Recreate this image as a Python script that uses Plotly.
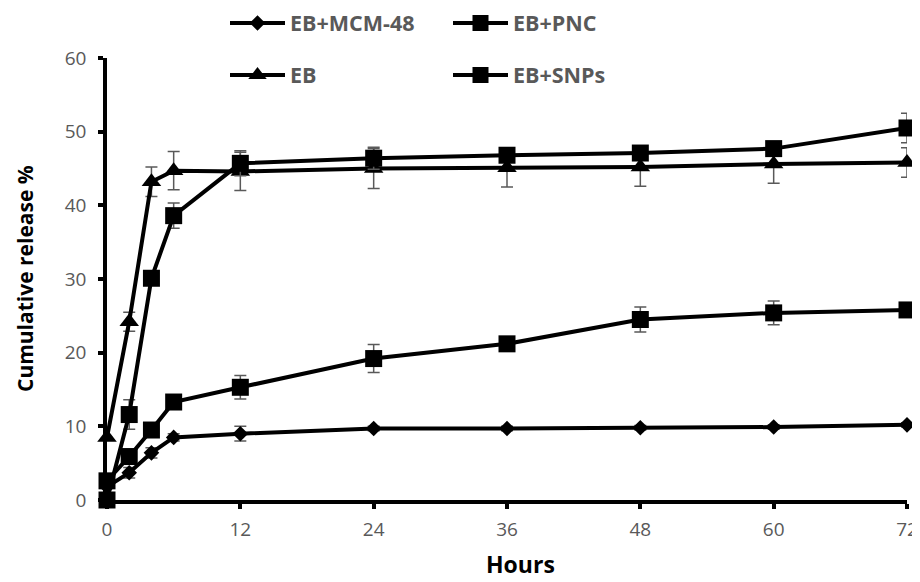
import plotly.graph_objects as go

hours = [0, 2, 4, 6, 12, 24, 36, 48, 60, 72]

mcm48 = [1.8, 3.7, 6.4, 8.5, 9.0, 9.7, 9.7, 9.8, 9.9, 10.2]
mcm48_err = [0.0, 0.7, 0.7, 0.5, 1.0, 0.3, 0.3, 0.3, 0.3, 0.3]

pnc = [2.6, 5.9, 9.5, 13.3, 15.3, 19.2, 21.2, 24.5, 25.4, 25.8]
pnc_err = [0.0, 0.6, 0.6, 0.6, 1.6, 1.9, 0.5, 1.7, 1.6, 0.5]

eb = [8.5, 24.2, 43.2, 44.7, 44.6, 45.0, 45.1, 45.2, 45.6, 45.8]
eb_err = [0.0, 1.3, 2.0, 2.6, 2.6, 2.7, 2.6, 2.6, 2.6, 2.0]

snps = [0.0, 11.6, 30.1, 38.6, 45.7, 46.4, 46.8, 47.1, 47.7, 50.5]
snps_err = [0.0, 2.0, 0.5, 1.7, 1.7, 1.5, 0.4, 0.4, 0.4, 2.0]

series = [
    ("EB+MCM-48", mcm48, mcm48_err, "diamond", 12, "legend"),
    ("EB+PNC", pnc, pnc_err, "square", 17, "legend2"),
    ("EB", eb, eb_err, "triangle-up", 17, "legend3"),
    ("EB+SNPs", snps, snps_err, "square", 17, "legend4"),
]

x_ticks = [0, 12, 24, 36, 48, 60, 72]
y_ticks = [0, 10, 20, 30, 40, 50, 60]

fig = go.Figure()
for name, vals, errs, sym, size, lg in series:
    fig.add_trace(go.Scatter(
        x=hours, y=vals, name=name, mode="lines+markers",
        line=dict(color="black", width=4),
        marker=dict(symbol=sym, size=size, color="black", line=dict(width=0)),
        error_y=dict(type="data", array=errs, visible=True,
                     color="#595959", thickness=1.5, width=6),
        cliponaxis=False, legend=lg,
    ))

# the page body adds an 8px margin, so the figure is 8px smaller
OFF = 8
W, H = 920 - OFF, 582 - OFF
L, T = 107 - OFF, 58 - OFF
R, B = 13, 82
pw, ph = W - L - R, H - T - B

def px_x(px):
    return (px - OFF - L) / pw

def px_y(py):
    return (H - B - (py - OFF)) / ph

legend_font = dict(family="Open Sans", size=21.5, color="#595959", weight="bold")
leg_common = dict(xanchor="left", yanchor="middle", bgcolor="rgba(0,0,0,0)",
                  font=legend_font, itemwidth=55, borderwidth=0)

fig.update_layout(
    width=W, height=H,
    margin=dict(l=L, r=R, t=T, b=B, pad=0, autoexpand=False),
    paper_bgcolor="white", plot_bgcolor="white",
    showlegend=True,
    legend=dict(x=px_x(225), y=px_y(23), **leg_common),
    legend2=dict(x=px_x(448), y=px_y(23), **leg_common),
    legend3=dict(x=px_x(225), y=px_y(75), **leg_common),
    legend4=dict(x=px_x(448), y=px_y(75), **leg_common),
    xaxis=dict(
        range=[0, 72], tickvals=x_ticks, ticktext=[str(v) for v in x_ticks],
        showline=True, linewidth=3.5, linecolor="black", mirror=False,
        ticks="outside", ticklen=5, tickwidth=3.5, tickcolor="black",
        showgrid=False, zeroline=False, automargin=False,
        tickfont=dict(family="Open Sans", size=19, color="#595959"),
        ticklabelstandoff=4,
    ),
    yaxis=dict(
        range=[0, 60], tickvals=y_ticks, ticktext=[str(v) for v in y_ticks],
        showline=True, linewidth=3.5, linecolor="black",
        ticks="outside", ticklen=5, tickwidth=3.5, tickcolor="black",
        showgrid=False, zeroline=False, automargin=False,
        tickfont=dict(family="Open Sans", size=19, color="#595959"),
        ticklabelstandoff=8,
    ),
    annotations=[
        dict(text="<b>Hours</b>", xref="paper", yref="paper",
             x=px_x(520), y=px_y(564), xanchor="center", yanchor="middle",
             showarrow=False, font=dict(family="Open Sans", size=23, color="black")),
        dict(text="<b>Cumulative release %</b>", xref="paper", yref="paper",
             x=px_x(25), y=px_y(279), xanchor="center", yanchor="middle",
             textangle=-90, showarrow=False,
             font=dict(family="Open Sans", size=21, color="black")),
    ],
)

fig.write_html("out.html")
